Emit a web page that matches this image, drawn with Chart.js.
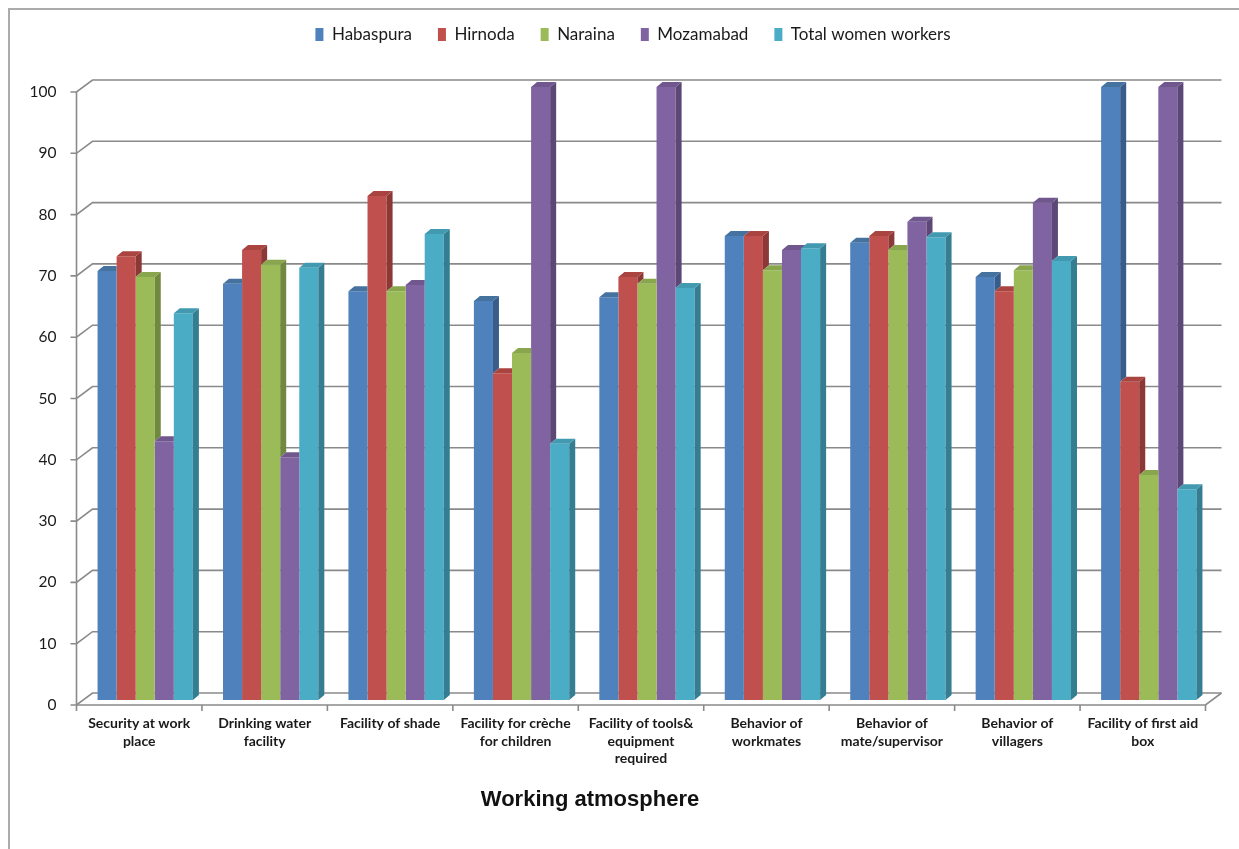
<!DOCTYPE html>
<html>
<head>
<meta charset="utf-8">
<title>Working atmosphere</title>
<script src="https://cdn.jsdelivr.net/npm/chart.js@4.4.1/dist/chart.umd.min.js"></script>
<style>
  html, body { margin: 0; padding: 0; background: #fff; overflow: hidden; }
  #wrap { position: relative; width: 1239px; height: 849px; }
  #frame { position: absolute; left: 8px; top: 8px; right: -10px; bottom: -10px;
           border-top: 2px solid #ababab; border-left: 2px solid #ababab; }
  canvas { position: absolute; left: 0; top: 0; }
</style>
</head>
<body>
<div id="wrap">
  <div id="frame"></div>
  <canvas id="myChart" width="1239" height="849"></canvas>
</div>
<script>
// Categories and series (percent of women workers)
const categories = [
  ["Security at work", "place"],
  ["Drinking water", "facility"],
  "Facility of shade",
  ["Facility for crèche", "for children"],
  ["Facility of tools&", "equipment", "required"],
  ["Behavior of", "workmates"],
  ["Behavior of", "mate/supervisor"],
  ["Behavior of", "villagers"],
  ["Facility of first aid", "box"],
];
const seriesNames = ["Habaspura", "Hirnoda", "Naraina", "Mozamabad", "Total women workers"];
const habaspura = [70, 67.9, 66.7, 65.1, 65.7, 75.7, 74.6, 69, 100];
const hirnoda = [72.4, 73.4, 82.2, 53.3, 69, 75.7, 75.7, 66.7, 51.9];
const naraina = [69, 71, 66.7, 56.6, 67.9, 70.1, 73.4, 70.1, 36.7];
const mozamabad = [42.2, 39.6, 67.7, 100, 100, 73.4, 78, 81.1, 100];
const totalWomen = [63.1, 70.5, 76, 41.8, 67.2, 73.7, 75.5, 71.6, 34.4];
const yTicks = [0, 10, 20, 30, 40, 50, 60, 70, 80, 90, 100];
const axisTitle = "Working atmosphere";

// Colours: front, side and top faces of the columns
const frontColors = ["#4F81BD", "#C0504D", "#9BBB59", "#8064A2", "#4BACC6"];
const sideColors = ["#385D8A", "#8C3836", "#71893F", "#5C4776", "#357D91"];
const topColors = ["#46729F", "#A94441", "#89A64E", "#70588F", "#429AB1"];
const gridColor = "#8a8a8a";
const textColor = "#1a1a1a";

// 3D offsets (px) relative to the column front faces
const depth = { dx: 6, dy: -5 };
const wall = { dx: 10, dy: -7 };
const front = { dx: -6, dy: 5 };

const seriesValues = [habaspura, hirnoda, naraina, mozamabad, totalWomen];

// Back wall, floor and axis lines
const boxPlugin = {
  id: "box3d",
  beforeDatasetsDraw(chart) {
    const { ctx, chartArea: a, scales } = chart;
    const x = scales.x, y = scales.y;
    const fl = a.left + front.dx, fr = a.right + front.dx;
    const bl = a.left + wall.dx, br = a.right + wall.dx;
    const y0 = y.getPixelForValue(0);
    const yTop = y.getPixelForValue(yTicks[yTicks.length - 1]);

    ctx.save();
    ctx.strokeStyle = gridColor;
    ctx.lineWidth = 1.6;

    yTicks.forEach((v) => {
      const py = y.getPixelForValue(v);
      ctx.beginPath();
      ctx.moveTo(fl - 6, py + front.dy);
      ctx.lineTo(fl, py + front.dy);
      ctx.lineTo(bl, py + wall.dy);
      ctx.lineTo(br, py + wall.dy);
      ctx.stroke();
    });

    // left axis
    ctx.beginPath();
    ctx.moveTo(fl, yTop + front.dy);
    ctx.lineTo(fl, y0 + front.dy);
    ctx.stroke();

    // floor front and right edge
    ctx.beginPath();
    ctx.moveTo(fl, y0 + front.dy);
    ctx.lineTo(fr, y0 + front.dy);
    ctx.lineTo(br, y0 + wall.dy);
    ctx.stroke();

    // category tick marks
    const catW = (a.right - a.left) / categories.length;
    for (let i = 0; i <= categories.length; i++) {
      const px = x.getPixelForValue(0) - catW / 2 + i * catW + front.dx;
      ctx.beginPath();
      ctx.moveTo(px, y0 + front.dy);
      ctx.lineTo(px, y0 + front.dy + 6);
      ctx.stroke();
    }
    ctx.restore();
  },

  // side and top faces of each column
  afterDatasetsDraw(chart) {
    const { ctx } = chart;
    const metas = seriesValues.map((_, i) => chart.getDatasetMeta(i));
    ctx.save();
    for (let j = 0; j < categories.length; j++) {
      for (let i = 0; i < metas.length; i++) {
        const bar = metas[i].data[j].getProps(["x", "y", "base", "width"], true);
        const next = i + 1 < metas.length
          ? metas[i + 1].data[j].getProps(["x", "y", "base", "width"], true)
          : null;
        const l = bar.x - bar.width / 2, r = bar.x + bar.width / 2;
        const lowEdge = next ? Math.min(Math.max(next.y, bar.y), bar.base) : bar.base;

        // side face, only the part above the neighbouring column
        if (lowEdge > bar.y) {
          ctx.fillStyle = sideColors[i];
          ctx.beginPath();
          ctx.moveTo(r, bar.y);
          ctx.lineTo(r + depth.dx, bar.y + depth.dy);
          ctx.lineTo(r + depth.dx, lowEdge + depth.dy);
          ctx.lineTo(r, lowEdge);
          ctx.closePath();
          ctx.fill();
        }

        // top face, hidden behind a taller neighbour
        ctx.save();
        if (next) {
          ctx.beginPath();
          ctx.rect(0, 0, chart.width, chart.height);
          ctx.rect(next.x - next.width / 2, next.y, next.width, next.base - next.y);
          ctx.clip("evenodd");
        }
        ctx.fillStyle = topColors[i];
        ctx.beginPath();
        ctx.moveTo(l, bar.y);
        ctx.lineTo(l + depth.dx, bar.y + depth.dy);
        ctx.lineTo(r + depth.dx, bar.y + depth.dy);
        ctx.lineTo(r, bar.y);
        ctx.closePath();
        ctx.fill();
        ctx.restore();
      }
    }
    ctx.restore();
  },

  afterDraw(chart) {
    const { ctx } = chart;
    ctx.save();
    ctx.fillStyle = "#111";
    ctx.font = 'bold 22px "Liberation Sans", Arial, sans-serif';
    ctx.textAlign = "center";
    ctx.textBaseline = "middle";
    ctx.fillText(axisTitle, 590, 800);
    ctx.restore();
  },
};

const datasets = seriesNames.map((name, i) => ({
  label: name,
  data: seriesValues[i],
  backgroundColor: frontColors[i],
  borderWidth: 0,
  barPercentage: 1,
  categoryPercentage: 0.76,
}));

const ctx = document.getElementById("myChart");

const myChart = new Chart(ctx, {
  type: "bar",
  data: { labels: categories, datasets: datasets },
  plugins: [boxPlugin],
  options: {
    responsive: false,
    animation: false,
    devicePixelRatio: 1,
    layout: { padding: { left: 27, right: 0, top: 0, bottom: 0 } },
    plugins: {
      tooltip: { enabled: false },
      legend: {
        position: "top",
        labels: {
          boxWidth: 8,
          boxHeight: 13,
          padding: 26,
          color: textColor,
          font: { family: "Lato", size: 17 },
        },
      },
    },
    scales: {
      x: {
        offset: true,
        grid: { display: false, drawTicks: false },
        border: { display: false },
        ticks: {
          color: textColor,
          font: { family: "Lato", size: 14, weight: "bold", lineHeight: 1.25 },
          padding: 15,
          labelOffset: -6,
          maxRotation: 0,
          autoSkip: false,
        },
        afterFit: (scale) => { scale.height = 149; },
      },
      xTop: {
        type: "category",
        position: "top",
        grid: { display: false, drawTicks: false },
        border: { display: false },
        ticks: { display: false },
        afterFit: (scale) => { scale.height = 34; },
      },
      y: {
        min: 0,
        max: 100,
        grid: { display: false, drawTicks: false },
        border: { display: false },
        ticks: {
          stepSize: 10,
          padding: 26,
          labelOffset: 5,
          color: textColor,
          font: { family: "Lato", size: 15.5 },
        },
        afterFit: (scale) => { scale.width = 55.5; },
      },
      yRight: {
        type: "linear",
        position: "right",
        grid: { display: false, drawTicks: false },
        border: { display: false },
        ticks: { display: false },
        afterFit: (scale) => { scale.width = 27.5; },
      },
    },
  },
});
</script>
</body>
</html>
